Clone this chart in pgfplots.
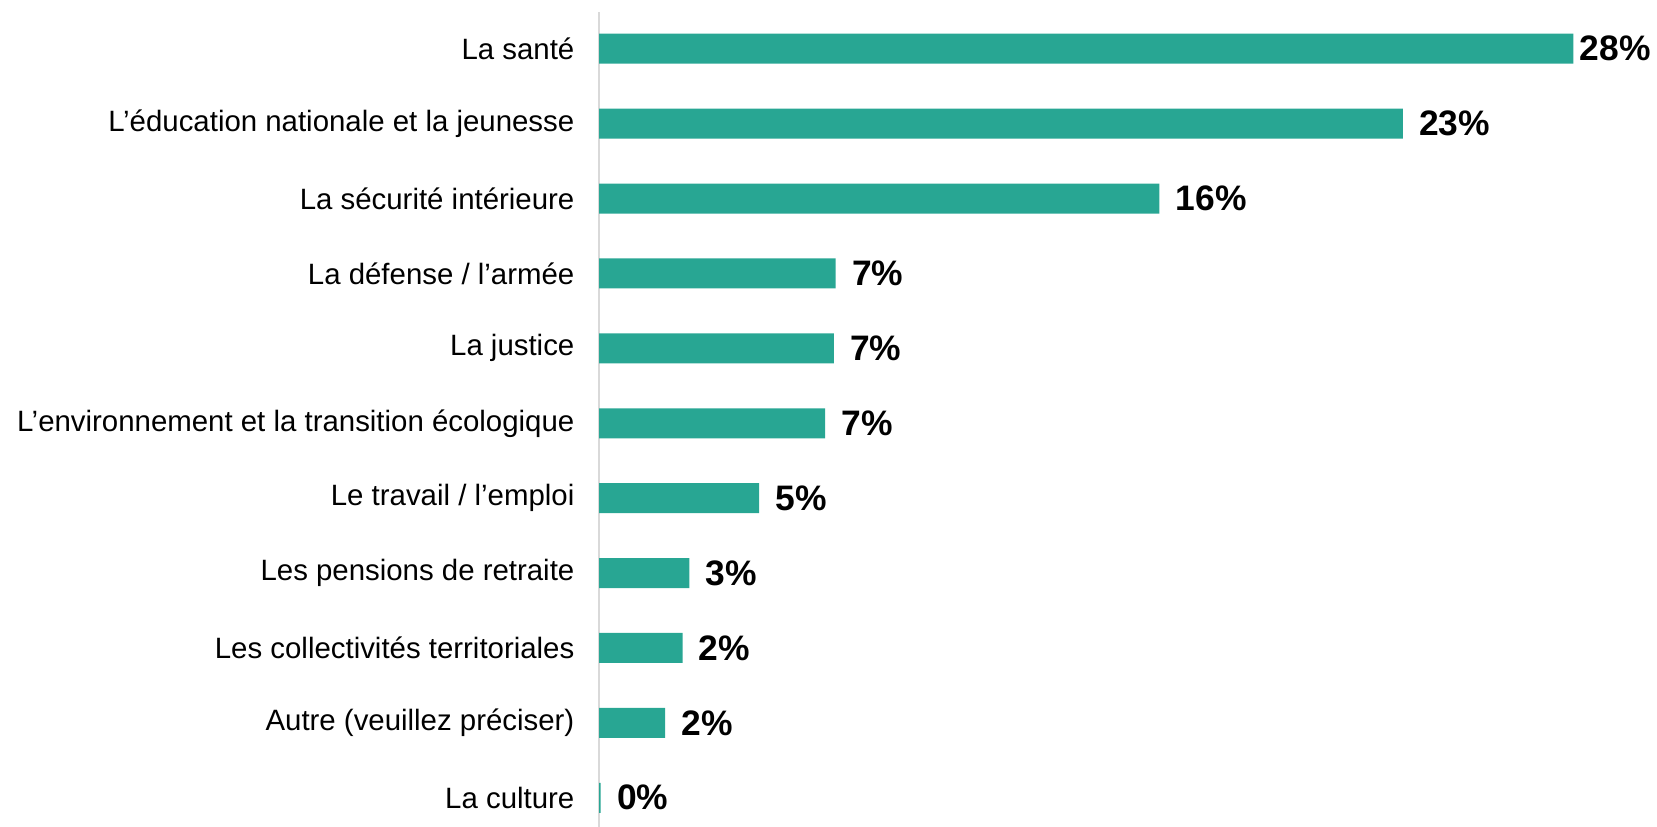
\documentclass[border=0pt]{standalone}
\usepackage{pgfplots}
\pgfplotsset{compat=1.18}
\usepackage{fontspec}
\setmainfont{Liberation Sans}
\definecolor{barteal}{HTML}{28A693}
\definecolor{axisgray}{HTML}{D9D9D9}
\begin{document}
\begin{tikzpicture}
\useasboundingbox (0,0) rectangle (828.5bp,413.5bp);
\begin{axis}[
    at={(299.5bp,0bp)}, anchor=south west,
    scale only axis,
    width=522bp, height=407.5bp,
    xmin=0, xmax=30,
    ymin=-0.49, ymax=10.39,
    y dir=reverse,
    axis x line=none,
    axis y line*=left,
    y axis line style={axisgray, line width=1.2bp, -},
    ytick={0,...,10},
    yticklabels={La santé, L’éducation nationale et la jeunesse, La sécurité intérieure, La défense / l’armée, La justice, L’environnement et la transition écologique, Le travail / l’emploi, Les pensions de retraite, Les collectivités territoriales, Autre (veuillez préciser), La culture},
    yticklabel style={font=\fontsize{14.7bp}{17bp}\selectfont, text=black, xshift=-8.8bp},
    major tick length=0pt,
    xbar, bar width=15bp, bar shift=0pt,
    clip=false,
    point meta=explicit symbolic,
    nodes near coords={\pgfplotspointmeta\%},
    nodes near coords style={font=\fontsize{17.7bp}{20bp}\selectfont\bfseries, text=black, anchor=west, inner sep=0pt, xshift=8bp},
  ]
  \addplot[fill=barteal, draw=none] coordinates {
    (28.0,0) [\kern-5bp 28]
    (23.1,1) [23]
    (16.1,2) [16]
    (6.8,3) [7]
    (6.75,4) [7]
    (6.5,5) [7]
    (4.6,6) [5]
    (2.6,7) [3]
    (2.4,8) [2]
    (1.9,9) [2]
    (0.05,10) [0]
  };
\end{axis}
\end{tikzpicture}
\end{document}
